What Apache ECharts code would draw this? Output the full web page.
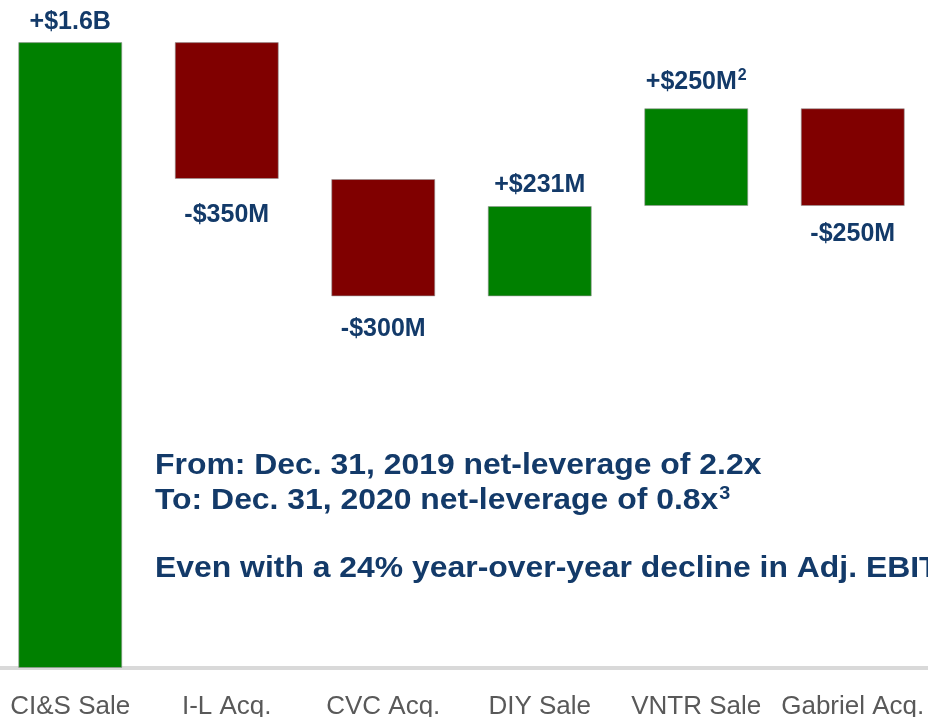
<!DOCTYPE html>
<html>
<head>
<meta charset="utf-8">
<script src="https://cdn.jsdelivr.net/npm/echarts@6/dist/echarts.min.js"></script>
<style>
  html, body { margin: 0; padding: 0; background: #fff; }
  #chart { width: 928px; height: 717px; }
</style>
</head>
<body>
<div id="chart"></div>
<script>
// steps of the bridge ($M)
const categories = ['CI&S Sale', 'I-L Acq.', 'CVC Acq.', 'DIY Sale', 'VNTR Sale', 'Gabriel Acq.'];
const deltas = [1600, -350, -300, 231, 250, -250];
const stepLabels = ['+$1.6B', '-$350M', '-$300M', '+$231M', '+$250M', '-$250M'];
const stepNotes = ['', '', '', '', '2', ''];
const labelGaps = [8, 24, 20, 8, 12, 16];

const NAVY = '#133a69';
const GREEN = '#008000';
const RED = '#800000';
const FONT = 'Liberation Sans, Arial, sans-serif';

// running totals -> invisible base + visible step
let running = 0;
const baseData = [];
const stepData = [];
deltas.forEach((d, i) => {
    const start = running;
    const end = running + d;
    running = end;
    baseData.push(Math.min(start, end));
    const up = d >= 0;
    stepData.push({
        value: Math.abs(d),
        itemStyle: { color: up ? GREEN : RED },
        label: {
            show: true,
            position: up ? 'top' : 'bottom',
            distance: labelGaps[i],
            formatter: stepNotes[i] ? '{v|' + stepLabels[i] + '}{s|' + stepNotes[i] + '}' : '{v|' + stepLabels[i] + '}'
        }
    });
});

const chart = echarts.init(document.getElementById('chart'));

const option = {
    animation: false,
    grid: { left: -8, width: 939, top: 3, bottom: 49, containLabel: false, outerBoundsMode: 'none' },
    xAxis: {
        type: 'category',
        data: categories,
        axisLine: { show: true, lineStyle: { color: '#d9d9d9', width: 4 } },
        axisTick: { show: false },
        axisLabel: {
            color: '#595959',
            fontFamily: FONT,
            fontSize: 26,
            margin: 26,
            interval: 0
        }
    },
    yAxis: {
        type: 'value',
        min: 0,
        max: 1700,
        show: false,
        splitLine: { show: false }
    },
    series: [
        {
            type: 'bar',
            stack: 'bridge',
            data: baseData,
            barWidth: 104,
            itemStyle: { color: 'transparent' },
            silent: true
        },
        {
            type: 'bar',
            stack: 'bridge',
            data: stepData,
            barWidth: 104,
            itemStyle: { borderColor: 'rgba(150,150,150,0.6)', borderWidth: 1 },
            label: {
                rich: {
                    v: { color: NAVY, fontFamily: FONT, fontSize: 25, fontWeight: 'bold' },
                    s: { color: NAVY, fontFamily: FONT, fontSize: 16, fontWeight: 'bold', padding: [0, 0, 13, 1] }
                }
            }
        }
    ],
    graphic: [
        {
            type: 'text',
            x: 155,
            y: 466,
            scaleX: 1.1,
            style: {
                text: 'From: Dec. 31, 2019 net-leverage of 2.2x',
                fill: NAVY,
                font: 'bold 29px "Liberation Sans", Arial, sans-serif',
                verticalAlign: 'middle'
            }
        },
        {
            type: 'text',
            x: 155,
            y: 501,
            scaleX: 1.1,
            style: {
                text: '{a|To: Dec. 31, 2020 net-leverage of 0.8x}{s|3}',
                verticalAlign: 'middle',
                rich: {
                    a: { fill: NAVY, fontSize: 29, fontWeight: 'bold', fontFamily: FONT },
                    s: { fill: NAVY, fontSize: 18, fontWeight: 'bold', fontFamily: FONT, padding: [0, 0, 14, 1] }
                }
            }
        },
        {
            type: 'text',
            x: 155,
            y: 569,
            scaleX: 1.1,
            style: {
                text: 'Even with a 24% year-over-year decline in Adj. EBITDA',
                fill: NAVY,
                font: 'bold 29px "Liberation Sans", Arial, sans-serif',
                verticalAlign: 'middle'
            }
        }
    ]
};

try {
    chart.setOption(option);
} catch (e) {
    console.error('Error setting option:', e);
}
</script>
</body>
</html>
